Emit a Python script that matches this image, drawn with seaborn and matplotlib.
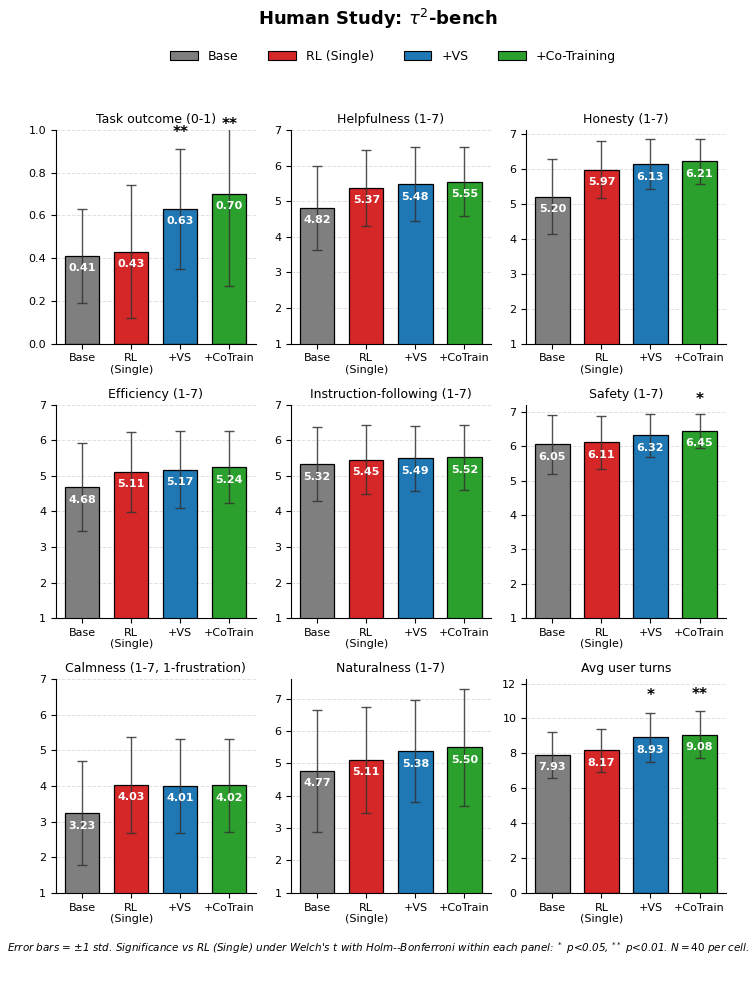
import matplotlib
matplotlib.use("Agg")
import matplotlib.pyplot as plt
import seaborn as sns
import pandas as pd
import numpy as np
from matplotlib.patches import Patch

models = ["Base", "RL (Single)", "+VS", "+Co-Training"]
tick_labels = ["Base", "RL\n(Single)", "+VS", "+CoTrain"]
colors = ["#7f7f7f", "#d62728", "#1f77b4", "#2ca02c"]

panel_titles = ["Task outcome (0-1)", "Helpfulness (1-7)", "Honesty (1-7)",
                "Efficiency (1-7)", "Instruction-following (1-7)", "Safety (1-7)",
                "Calmness (1-7, 1-frustration)", "Naturalness (1-7)", "Avg user turns"]

task_mean = [0.41, 0.43, 0.63, 0.70]
task_std = [0.22, 0.31, 0.28, 0.43]
help_mean = [4.82, 5.37, 5.48, 5.55]
help_std = [1.18, 1.07, 1.04, 0.96]
hon_mean = [5.20, 5.97, 6.13, 6.21]
hon_std = [1.08, 0.81, 0.71, 0.64]
eff_mean = [4.68, 5.11, 5.17, 5.24]
eff_std = [1.23, 1.12, 1.08, 1.01]
inst_mean = [5.32, 5.45, 5.49, 5.52]
inst_std = [1.04, 0.97, 0.92, 0.91]
safe_mean = [6.05, 6.11, 6.32, 6.45]
safe_std = [0.85, 0.76, 0.62, 0.49]
calm_mean = [3.23, 4.03, 4.01, 4.02]
calm_std = [1.46, 1.34, 1.32, 1.31]
nat_mean = [4.77, 5.11, 5.38, 5.50]
nat_std = [1.89, 1.63, 1.57, 1.81]
turns_mean = [7.93, 8.17, 8.93, 9.08]
turns_std = [1.32, 1.22, 1.41, 1.34]

task_sig = ["", "", "**", "**"]
help_sig = ["", "", "", ""]
hon_sig = ["", "", "", ""]
eff_sig = ["", "", "", ""]
inst_sig = ["", "", "", ""]
safe_sig = ["", "", "", "*"]
calm_sig = ["", "", "", ""]
nat_sig = ["", "", "", ""]
turns_sig = ["", "", "*", "**"]

means = [task_mean, help_mean, hon_mean, eff_mean, inst_mean, safe_mean, calm_mean, nat_mean, turns_mean]
stds = [task_std, help_std, hon_std, eff_std, inst_std, safe_std, calm_std, nat_std, turns_std]
sigs = [task_sig, help_sig, hon_sig, eff_sig, inst_sig, safe_sig, calm_sig, nat_sig, turns_sig]
ylims = [(0, 1.0), (1, 7), (1, 7.11), (1, 7), (1, 7), (1, 7.21), (1, 7), (1, 7.6), (0, 12.25)]
yticks = [np.arange(0, 1.01, 0.2), range(1, 8), range(1, 8), range(1, 8), range(1, 8),
          range(1, 8), range(1, 8), range(1, 8), range(0, 13, 2)]

sns.set_style("ticks")
plt.rcParams['font.family'] = ['DejaVu Sans']
plt.rcParams['text.color'] = 'black'
plt.rcParams['axes.labelcolor'] = 'black'
plt.rcParams['xtick.color'] = 'black'
plt.rcParams['ytick.color'] = 'black'
plt.rcParams['axes.edgecolor'] = 'black'

fig, axes = plt.subplots(3, 3, figsize=(7.56, 9.92), dpi=100)
fig.subplots_adjust(left=0.074, right=0.960, top=0.869, bottom=0.100, wspace=0.178, hspace=0.286)

for i, ax in enumerate(axes.flat):
    df = pd.DataFrame({"model": models, "mean": means[i], "std": stds[i]})
    sns.barplot(data=df, x="model", y="mean", hue="model", palette=colors, order=models,
                hue_order=models, width=0.7, edgecolor="black", linewidth=0.9,
                saturation=1, errorbar=None, legend=False, ax=ax, zorder=2)
    xs = np.arange(len(models))
    ax.errorbar(xs, df["mean"], yerr=df["std"], fmt="none", ecolor="#333333",
                elinewidth=1.0, capsize=3.5, capthick=1.0, alpha=0.85, zorder=3)
    lo, hi = ylims[i]
    rng = hi - lo
    ax.set_ylim(lo, hi)
    ax.set_yticks(list(yticks[i]))
    if i == 0:
        ax.set_yticklabels([f"{t:.1f}" for t in yticks[i]])
    for x, m, s, sg in zip(xs, df["mean"], df["std"], sigs[i]):
        ax.text(x, m - 0.035 * rng, f"{m:.2f}", ha="center", va="top", color="white",
                fontsize=8, fontweight="bold", zorder=4)
        if sg:
            ys = min(m + s + 0.08 * rng, hi + 0.024 * rng)
            ax.text(x, ys, sg, ha="center", va="center", fontsize=11, fontweight="bold",
                    clip_on=False, zorder=5)
    ax.set_xticks(xs)
    ax.set_xticklabels(tick_labels, fontsize=8)
    ax.tick_params(axis="y", labelsize=8)
    ax.set_xlabel("")
    ax.set_ylabel("")
    ax.set_title(panel_titles[i], fontsize=9, pad=5)
    ax.yaxis.grid(True, linestyle="--", color="#cccccc", alpha=0.6, linewidth=0.7, zorder=0)
    ax.set_axisbelow(True)
    sns.despine(ax=ax)

fig.suptitle(r"Human Study: $\tau^2$-bench", fontsize=13, fontweight="bold", y=0.993)
handles = [Patch(facecolor=c, edgecolor="black", linewidth=0.8) for c in colors]
fig.legend(handles, models, loc="center", bbox_to_anchor=(0.52, 0.943), ncol=4,
           frameon=False, fontsize=9, handlelength=2.2, columnspacing=2.4)
fig.text(0.5, 0.044,
         r"Error bars = $\pm$1 std. Significance vs RL (Single) under Welch's t with Holm--Bonferroni within each panel: $^*$ $p$<0.05, $^{**}$ $p$<0.01. $N=40$ per cell.",
         ha="center", va="center", fontsize=7.5, style="italic")

fig.savefig("out.png", dpi=100)
